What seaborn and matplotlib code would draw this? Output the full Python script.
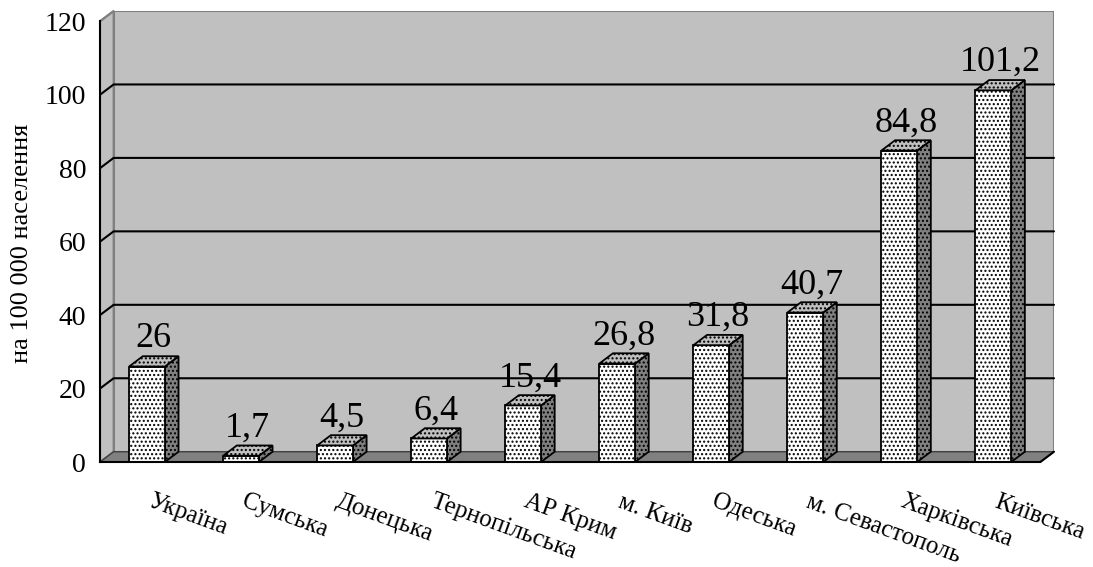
import numpy as np
import pandas as pd
import matplotlib
matplotlib.use("Agg")
import matplotlib.pyplot as plt
from matplotlib.patches import Polygon, Rectangle
import seaborn as sns

regions = ["Україна", "Сумська", "Донецька", "Тернопільська", "АР Крим",
           "м. Київ", "Одеська", "м. Севастополь", "Харківська", "Київська"]
values = [26, 1.7, 4.5, 6.4, 15.4, 26.8, 31.8, 40.7, 84.8, 101.2]
value_labels = ["26", "1,7", "4,5", "6,4", "15,4", "26,8", "31,8", "40,7", "84,8", "101,2"]
y_ticks = [0, 20, 40, 60, 80, 100, 120]
y_title = "на 100 000 населення"

sns.set_style("white")
plt.rcParams["font.family"] = ["Liberation Serif", "DejaVu Serif"]
plt.rcParams["text.color"] = "black"
plt.rcParams["xtick.color"] = "black"
plt.rcParams["ytick.color"] = "black"
plt.rcParams["axes.labelcolor"] = "black"
plt.rcParams["hatch.linewidth"] = 1.0

W, H, DPI = 1093, 567, 100
fig = plt.figure(figsize=(W / DPI, H / DPI), dpi=DPI)

# depth of the pseudo-3D box, in data units
DX, DY = 0.145, 2.8
YMAX = 120
n = len(regions)
DOTS = "...."

ax = fig.add_axes([100 / W, 105 / H, 954 / W, 451 / H])

df = pd.DataFrame({"region": regions, "value": values})
sns.barplot(data=df, x="region", y="value", width=0.38, color="white",
            edgecolor="black", linewidth=1.3, hatch=DOTS, saturation=1,
            ax=ax, zorder=3)
bars = list(ax.containers[0])
for b in bars:
    b.set_facecolor("white")
    b.set_zorder(3)

ax.set_xlim(-0.5, n - 0.5 + DX)
ax.set_ylim(0, YMAX + DY)

x0, x1 = -0.5, n - 0.5
# back wall
ax.add_patch(Rectangle((x0 + DX, DY), x1 - x0, YMAX, facecolor="#c0c0c0",
                       edgecolor="#808080", lw=1.5, zorder=0))
# left side wall
ax.add_patch(Polygon([(x0, 0), (x0 + DX, DY), (x0 + DX, YMAX + DY), (x0, YMAX)],
                     closed=True, facecolor="#c0c0c0", edgecolor="#808080",
                     lw=1.5, zorder=0.2))
# floor
ax.add_patch(Polygon([(x0, 0), (x1, 0), (x1 + DX, DY), (x0 + DX, DY)],
                     closed=True, facecolor="#808080", edgecolor="#404040",
                     lw=1.0, zorder=0.4))
ax.plot([x1, x1 + DX], [0, DY], color="black", lw=1.5, zorder=0.5, clip_on=False)

# gridlines across side wall and back wall
for t in y_ticks[1:-1]:
    ax.plot([x0, x0 + DX, x1 + DX], [t, t + DY, t + DY], color="black",
            lw=1.5, zorder=0.6, clip_on=False)
ax.plot([x0, x0 + DX], [YMAX, YMAX + DY], color="#808080", lw=1.5, zorder=0.6,
        clip_on=False)

# side and top faces of every bar, built from the drawn front faces
for b, lab in zip(bars, value_labels):
    bx, bw, bh = b.get_x(), b.get_width(), b.get_height()
    xr = bx + bw
    side = Polygon([(xr, 0), (xr + DX, DY), (xr + DX, bh + DY), (xr, bh)],
                   closed=True, facecolor="#808080", edgecolor="black",
                   lw=1.3, hatch=DOTS, zorder=2.9)
    top = Polygon([(bx, bh), (xr, bh), (xr + DX, bh + DY), (bx + DX, bh + DY)],
                  closed=True, facecolor="#c0c0c0", edgecolor="black",
                  lw=1.3, hatch=DOTS, zorder=3.1)
    ax.add_patch(side)
    ax.add_patch(top)
    ax.text(bx + bw / 2 + DX / 2, bh + DY + 2.4, lab, ha="center",
            va="baseline", fontsize=26, color="black", zorder=5)

# axes lines and ticks
for s in ["top", "right"]:
    ax.spines[s].set_visible(False)
ax.spines["left"].set_bounds(0, YMAX)
ax.spines["bottom"].set_bounds(x0, x1)
for s in ["left", "bottom"]:
    ax.spines[s].set_color("black")
    ax.spines[s].set_linewidth(1.5)
    ax.spines[s].set_zorder(4)
ax.set_yticks(y_ticks)
ax.set_yticklabels([str(t) for t in y_ticks], fontsize=20, color="black")
ax.set_xticks(np.arange(x0, x1 + 0.01, 1.0))
ax.set_xticklabels([])
ax.tick_params(axis="both", direction="out", length=8, width=1.5,
               color="black", pad=2)
ax.set_xlabel("")
ax.set_ylabel("")

for i, r in enumerate(regions):
    ax.text(i + 0.06, -7.8, r, rotation=-20, rotation_mode="anchor",
            ha="left", va="top", fontsize=18, color="black", clip_on=False)

fig.text(22 / W, 1 - 243 / H, y_title, rotation=90, ha="center", va="center",
         fontsize=19, color="black")

fig.savefig("out.png", dpi=DPI)
